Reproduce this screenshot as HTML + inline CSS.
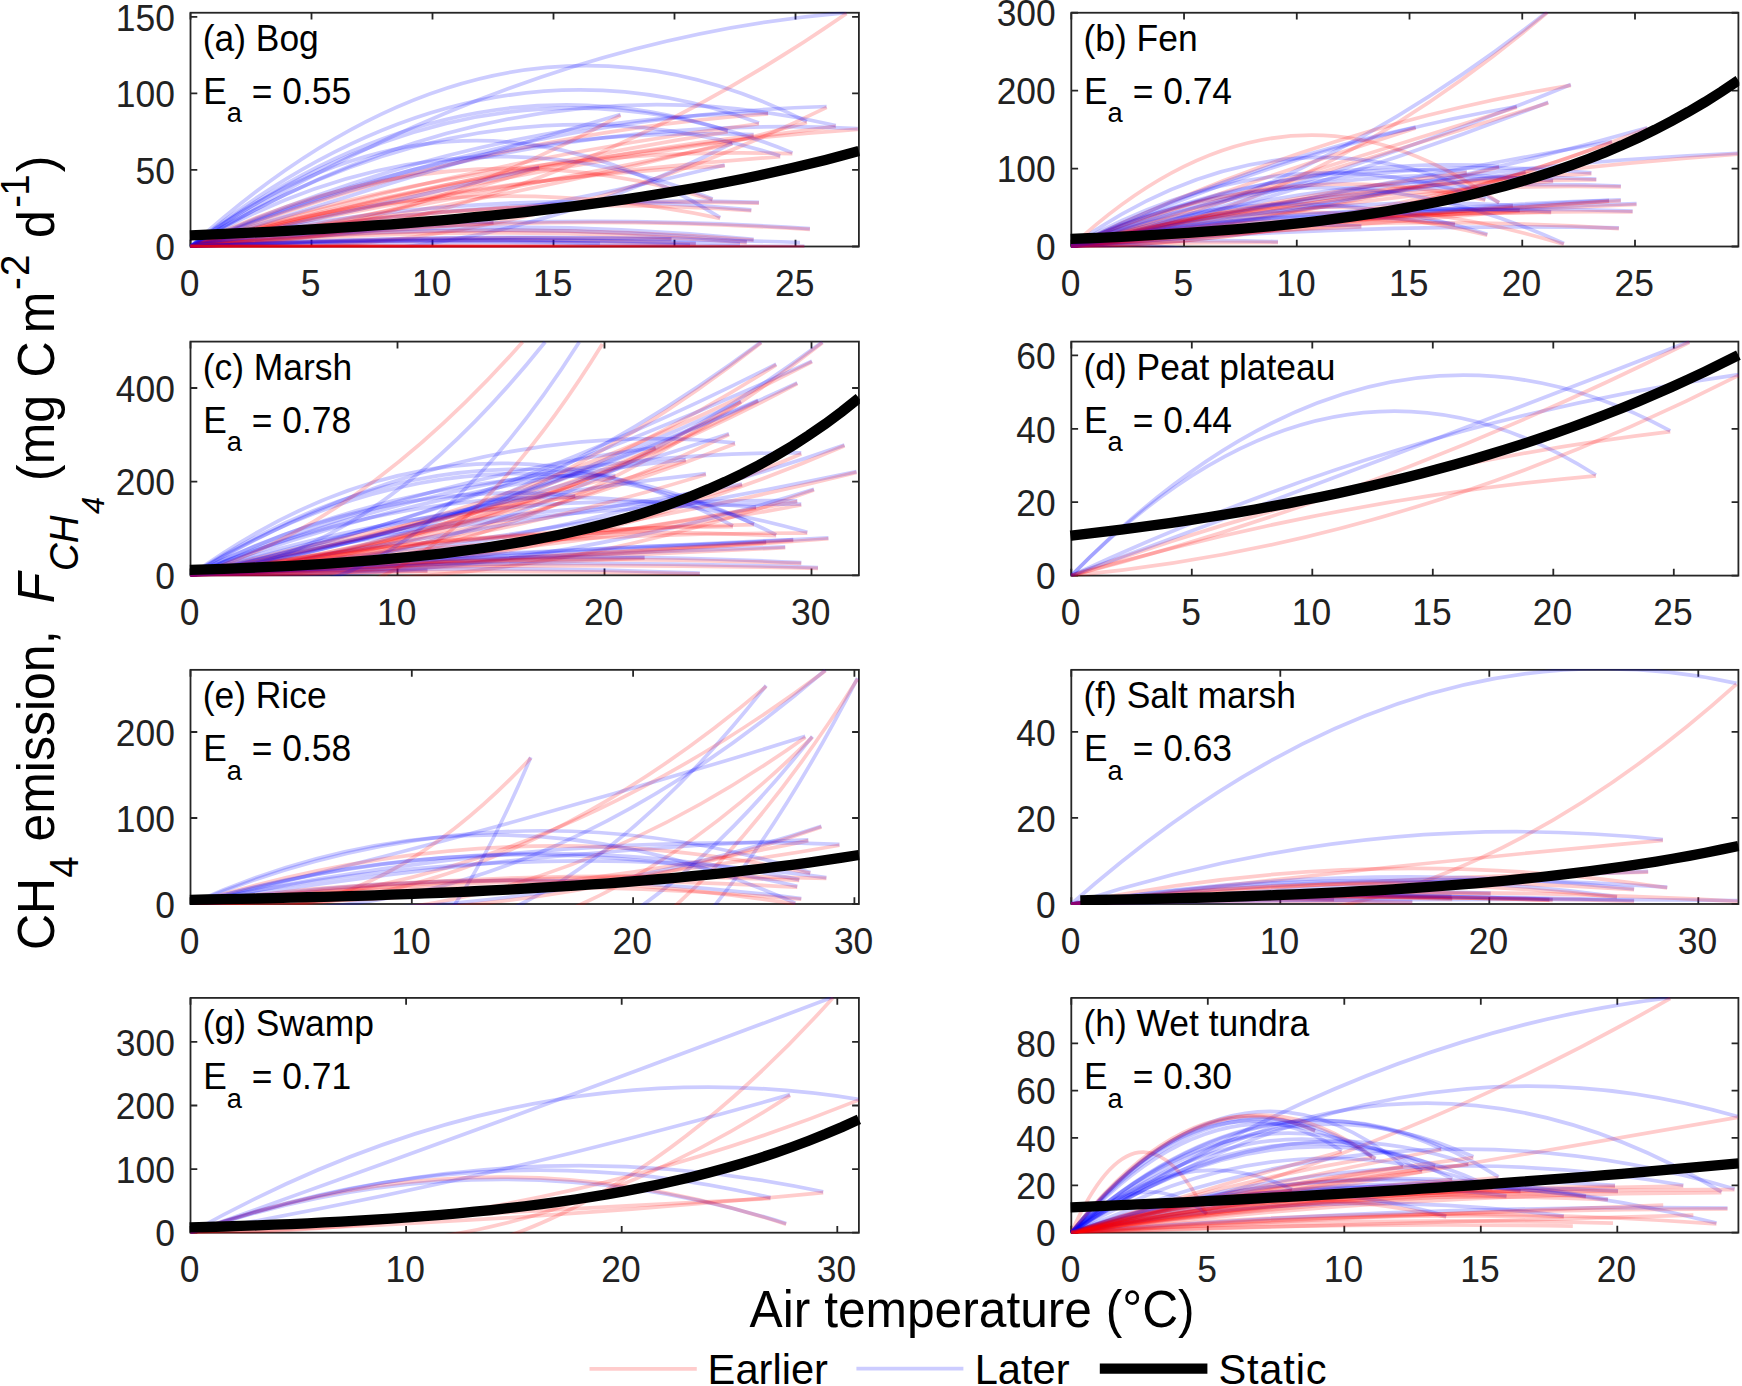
<!DOCTYPE html>
<html lang="en"><head><meta charset="utf-8"><title>CH4 emission vs air temperature</title>
<style>html,body{margin:0;padding:0;background:#fff}svg{display:block}text{font-family:"Liberation Sans", Arial, Helvetica, sans-serif;fill:#000}.t{font-size:35.4px;fill:#222}.r{fill:none;stroke:#f00;stroke-opacity:.2;stroke-width:3.7}.b{fill:none;stroke:#00f;stroke-opacity:.2;stroke-width:3.7}.k{fill:none;stroke:#000;stroke-width:10.3}.ax{fill:none;stroke:#262626;stroke-width:1.8}</style></head><body>
<svg width="1742" height="1386" viewBox="0 0 1742 1386">
<rect width="1742" height="1386" fill="#fff"/>
<g id="panel-a">
<clipPath id="ca"><rect x="189.6" y="11.85" width="670.2" height="235.55"/></clipPath>
<rect class="ax" x="190.5" y="12.75" width="668.4" height="233.75"/>
<path class="ax" d="M190.5 246.5v-6.8M190.5 12.75v6.8M311.5 246.5v-6.8M311.5 12.75v6.8M432.5 246.5v-6.8M432.5 12.75v6.8M553.5 246.5v-6.8M553.5 12.75v6.8M674.5 246.5v-6.8M674.5 12.75v6.8M795.5 246.5v-6.8M795.5 12.75v6.8M190.5 246.5h6.8M858.9 246.5h-6.8M190.5 169.97h6.8M858.9 169.97h-6.8M190.5 93.43h6.8M858.9 93.43h-6.8M190.5 16.9h6.8M858.9 16.9h-6.8"/>
<g clip-path="url(#ca)">
<path class="b" d="M190.5 246.5Q508.58 115.6 826.66 106.51"/>
<path class="r" d="M190.5 246.5Q508.58 263.33 826.66 107.31"/>
<path class="b" d="M190.5 246.5Q513.15 50.17 835.79 125.53"/>
<path class="r" d="M190.5 246.5Q513.15 167.11 835.79 126.33"/>
<path class="b" d="M190.5 246.5Q498.69 -35.16 806.89 121.72"/>
<path class="r" d="M190.5 246.5Q498.69 205.49 806.89 122.52"/>
<path class="b" d="M190.5 246.5Q524.18 111.76 857.85 128.57"/>
<path class="r" d="M190.5 246.5Q524.18 152.45 857.85 129.37"/>
<path class="b" d="M190.5 246.5Q479.3 115.74 768.1 113.05"/>
<path class="r" d="M190.5 246.5Q479.3 134.51 768.1 113.85"/>
<path class="b" d="M190.5 246.5Q474.73 17.97 758.97 122.94"/>
<path class="r" d="M190.5 246.5Q474.73 159.92 758.97 123.74"/>
<path class="b" d="M190.5 246.5Q472.07 122.52 753.65 134.65"/>
<path class="r" d="M190.5 246.5Q472.07 171.24 753.65 135.45"/>
<path class="b" d="M190.5 246.5Q461.42 281.25 732.35 143.02"/>
<path class="r" d="M190.5 246.5Q461.42 198.94 732.35 143.82"/>
<path class="b" d="M190.5 246.5Q459.14 44.07 727.78 130.85"/>
<path class="r" d="M190.5 246.5Q459.14 175.6 727.78 131.65"/>
<path class="b" d="M190.5 246.5Q491.47 29.33 792.44 152.91"/>
<path class="r" d="M190.5 246.5Q491.47 144.22 792.44 153.71"/>
<path class="b" d="M190.5 246.5Q485.38 62.61 780.27 155.95"/>
<path class="r" d="M190.5 246.5Q485.38 177.09 780.27 156.75"/>
<path class="b" d="M190.5 246.5Q457.62 231.79 724.74 165.08"/>
<path class="r" d="M190.5 246.5Q457.62 178.27 724.74 165.88"/>
<path class="b" d="M190.5 246.5Q451.54 94.79 712.57 199"/>
<path class="r" d="M190.5 246.5Q451.54 118.61 712.57 199.8"/>
<path class="b" d="M190.5 246.5Q474.73 193.69 758.97 202.35"/>
<path class="r" d="M190.5 246.5Q474.73 195.01 758.97 203.15"/>
<path class="b" d="M190.5 246.5Q470.93 182.25 751.36 209.95"/>
<path class="r" d="M190.5 246.5Q470.93 191.45 751.36 210.75"/>
<path class="b" d="M190.5 246.5Q455.34 50.56 720.18 217.56"/>
<path class="r" d="M190.5 246.5Q455.34 162.86 720.18 218.36"/>
<path class="b" d="M190.5 246.5Q500.22 207.74 809.93 228.67"/>
<path class="r" d="M190.5 246.5Q500.22 209.57 809.93 229.47"/>
<path class="b" d="M190.5 246.5Q472.07 211.84 753.65 239.31"/>
<path class="r" d="M190.5 246.5Q472.07 217.89 753.65 240.11"/>
<path class="b" d="M190.5 246.5Q468.65 216.25 746.8 241.9"/>
<path class="r" d="M190.5 246.5Q468.65 221.11 746.8 242.7"/>
<path class="b" d="M190.5 246.5Q497.55 245.33 804.61 246.46"/>
<path class="r" d="M190.5 246.5Q497.55 244.36 804.61 247.26"/>
<path class="b" d="M190.5 246.5Q443.17 234.75 695.84 243.42"/>
<path class="r" d="M190.5 246.5Q443.17 235.37 695.84 244.22"/>
<path class="b" d="M190.5 246.5Q431 233.63 671.5 238.86"/>
<path class="r" d="M190.5 246.5Q431 234.22 671.5 239.66"/>
<path class="b" d="M190.5 246.5Q405.52 176.77 620.54 114.57"/>
<path class="r" d="M190.5 246.5Q405.52 232.99 620.54 115.37"/>
<path class="b" d="M190.5 246.5Q518.51 40.35 846.52 12.63"/>
<path class="r" d="M190.5 246.5Q518.51 240.38 846.52 13.43"/>
<path class="b" d="M190.5 246.5Q364.83 208.75 539.15 167.36"/>
<path class="r" d="M190.5 246.5Q364.83 224.08 539.15 168.16"/>
<path class="b" d="M190.5 246.5Q342.01 220.27 493.51 222.12"/>
<path class="r" d="M190.5 246.5Q342.01 232.34 493.51 222.92"/>
<path class="b" d="M190.5 246.5Q495.25 231.56 800 242.5"/>
<path class="b" d="M190.5 246.5Q465.25 234.58 740 244"/>
<path class="b" d="M190.5 246.5Q440.25 239.08 690 245"/>
<path class="b" d="M190.5 246.5Q395.25 237.13 600 243.5"/>
<path class="r" d="M190.5 246.5Q497.25 246.6 804 246.7"/>
<path class="r" d="M190.5 246.5Q465.25 246.72 740 246.9"/>
<path class="r" d="M190.5 246.5Q440.25 246.37 690 246.8"/>
<path class="r" d="M190.5 246.5Q415.25 246.93 640 247"/>
<path class="r" d="M190.5 246.5Q375.25 246.55 560 246.9"/>
<path class="r" d="M190.5 246.5Q345.25 246.7 500 247"/>
<path class="r" d="M190.5 246.5Q310.25 246.89 430 247"/>
<polyline class="k" points="189.6 235.36 190.5 235.33 207.21 234.65 223.92 233.93 240.63 233.18 257.34 232.38 274.05 231.54 290.76 230.66 307.47 229.72 324.18 228.74 340.89 227.71 357.6 226.62 374.31 225.47 391.02 224.27 407.73 223 424.44 221.66 441.15 220.26 457.86 218.78 474.57 217.23 491.28 215.61 507.99 213.89 524.7 212.1 541.41 210.21 558.12 208.23 574.83 206.15 591.54 203.97 608.25 201.68 624.96 199.29 641.67 196.77 658.38 194.14 675.09 191.37 691.8 188.48 708.51 185.45 725.22 182.28 741.93 178.95 758.64 175.48 775.35 171.84 792.06 168.03 808.77 164.05 825.48 159.88 842.19 155.53 858.9 150.97"/>
</g>
<text class="t" transform="translate(189.7 296.1) scale(1 1.04)" text-anchor="middle">0</text>
<text class="t" transform="translate(310.7 296.1) scale(1 1.04)" text-anchor="middle">5</text>
<text class="t" transform="translate(431.7 296.1) scale(1 1.04)" text-anchor="middle">10</text>
<text class="t" transform="translate(552.7 296.1) scale(1 1.04)" text-anchor="middle">15</text>
<text class="t" transform="translate(673.7 296.1) scale(1 1.04)" text-anchor="middle">20</text>
<text class="t" transform="translate(794.7 296.1) scale(1 1.04)" text-anchor="middle">25</text>
<text class="t" transform="translate(174.9 260.2) scale(1 1.04)" text-anchor="end">0</text>
<text class="t" transform="translate(174.9 183.66) scale(1 1.04)" text-anchor="end">50</text>
<text class="t" transform="translate(174.9 107.13) scale(1 1.04)" text-anchor="end">100</text>
<text class="t" transform="translate(174.9 30.6) scale(1 1.04)" text-anchor="end">150</text>
<text class="t" transform="translate(202.7 50.65) scale(1 1.04)" style="fill:#000">(a) Bog</text>
<text class="t" transform="translate(203.2 103.95) scale(1 1.04)" style="fill:#000">E<tspan dy="17.8" font-size="27.3">a</tspan><tspan dy="-17.8"> = 0.55</tspan></text>
</g>
<g id="panel-b">
<clipPath id="cb"><rect x="1070.4" y="11.85" width="668.9" height="235.55"/></clipPath>
<rect class="ax" x="1071.3" y="12.75" width="667.1" height="233.75"/>
<path class="ax" d="M1071.3 246.5v-6.8M1071.3 12.75v6.8M1184.04 246.5v-6.8M1184.04 12.75v6.8M1296.78 246.5v-6.8M1296.78 12.75v6.8M1409.52 246.5v-6.8M1409.52 12.75v6.8M1522.26 246.5v-6.8M1522.26 12.75v6.8M1635 246.5v-6.8M1635 12.75v6.8M1071.3 246.5h6.8M1738.4 246.5h-6.8M1071.3 168.58h6.8M1738.4 168.58h-6.8M1071.3 90.67h6.8M1738.4 90.67h-6.8M1071.3 12.75h6.8M1738.4 12.75h-6.8"/>
<g clip-path="url(#cb)">
<path class="b" d="M1071.3 246.5Q1309.27 199.42 1547.24 11.87"/>
<path class="r" d="M1071.3 246.5Q1309.27 213.9 1547.24 12.67"/>
<path class="b" d="M1071.3 246.5Q1321.05 186.74 1570.8 84.51"/>
<path class="r" d="M1071.3 246.5Q1321.05 126.31 1570.8 85.31"/>
<path class="b" d="M1071.3 246.5Q1309.76 195.18 1548.23 102.18"/>
<path class="r" d="M1071.3 246.5Q1309.76 177.32 1548.23 102.98"/>
<path class="b" d="M1071.3 246.5Q1294.06 145.01 1516.81 106.5"/>
<path class="r" d="M1071.3 246.5Q1294.06 177.25 1516.81 107.3"/>
<path class="b" d="M1071.3 246.5Q1243.5 163.61 1415.71 127.11"/>
<path class="r" d="M1071.3 246.5Q1243.5 183.54 1415.71 127.91"/>
<path class="b" d="M1071.3 246.5Q1404.49 167.1 1737.68 153.23"/>
<path class="r" d="M1071.3 246.5Q1404.49 178.37 1737.68 154.03"/>
<path class="b" d="M1071.3 246.5Q1341.67 189.44 1612.03 141.45"/>
<path class="r" d="M1071.3 246.5Q1341.67 242.71 1612.03 142.25"/>
<path class="b" d="M1071.3 246.5Q1359.34 209.04 1647.37 127.7"/>
<path class="r" d="M1071.3 246.5Q1359.34 242.31 1647.37 128.5"/>
<path class="b" d="M1071.3 246.5Q1331.36 148.14 1591.42 172.86"/>
<path class="r" d="M1071.3 246.5Q1331.36 184.56 1591.42 173.66"/>
<path class="b" d="M1071.3 246.5Q1333.81 167.82 1596.33 179.14"/>
<path class="r" d="M1071.3 246.5Q1333.81 177.12 1596.33 179.94"/>
<path class="b" d="M1071.3 246.5Q1346.08 175.26 1620.87 186.01"/>
<path class="r" d="M1071.3 246.5Q1346.08 180.65 1620.87 186.81"/>
<path class="b" d="M1071.3 246.5Q1312.22 155.93 1553.13 180.71"/>
<path class="r" d="M1071.3 246.5Q1312.22 202.51 1553.13 181.51"/>
<path class="b" d="M1071.3 246.5Q1285.22 154.15 1499.14 166.38"/>
<path class="r" d="M1071.3 246.5Q1285.22 221.01 1499.14 167.18"/>
<path class="b" d="M1071.3 246.5Q1269.03 157.3 1466.75 171.88"/>
<path class="r" d="M1071.3 246.5Q1269.03 197.31 1466.75 172.68"/>
<path class="b" d="M1071.3 246.5Q1298.47 204.61 1525.65 171.88"/>
<path class="r" d="M1071.3 246.5Q1298.47 233.62 1525.65 172.68"/>
<path class="b" d="M1071.3 246.5Q1353.94 211.35 1636.57 203.68"/>
<path class="r" d="M1071.3 246.5Q1353.94 216.25 1636.57 204.48"/>
<path class="b" d="M1071.3 246.5Q1346.08 208.75 1620.87 199.95"/>
<path class="r" d="M1071.3 246.5Q1346.08 216.68 1620.87 200.75"/>
<path class="b" d="M1071.3 246.5Q1340.19 214.43 1609.09 200.34"/>
<path class="r" d="M1071.3 246.5Q1340.19 219.79 1609.09 201.14"/>
<path class="b" d="M1071.3 246.5Q1351.97 200.56 1632.65 211.14"/>
<path class="r" d="M1071.3 246.5Q1351.97 209.06 1632.65 211.94"/>
<path class="b" d="M1071.3 246.5Q1311.24 198.7 1551.17 211.73"/>
<path class="r" d="M1071.3 246.5Q1311.24 211.74 1551.17 212.53"/>
<path class="b" d="M1071.3 246.5Q1345.1 222.46 1618.9 227.83"/>
<path class="r" d="M1071.3 246.5Q1345.1 210.91 1618.9 228.63"/>
<path class="b" d="M1071.3 246.5Q1317.62 130.2 1563.93 243.54"/>
<path class="r" d="M1071.3 246.5Q1317.62 168.58 1563.93 244.34"/>
<path class="b" d="M1071.3 246.5Q1279.33 168.22 1487.37 234.31"/>
<path class="r" d="M1071.3 246.5Q1279.33 184.37 1487.37 235.11"/>
<path class="b" d="M1071.3 246.5Q1285.22 94.13 1499.14 202.31"/>
<path class="r" d="M1071.3 246.5Q1285.22 48.2 1499.14 203.11"/>
<path class="b" d="M1071.3 246.5Q1278.35 128.78 1485.4 199.36"/>
<path class="r" d="M1071.3 246.5Q1278.35 152.38 1485.4 200.16"/>
<path class="b" d="M1071.3 246.5Q1295.53 203.12 1519.76 210.16"/>
<path class="r" d="M1071.3 246.5Q1295.53 229.87 1519.76 210.96"/>
<path class="b" d="M1071.3 246.5Q1292.09 193.23 1512.89 205.25"/>
<path class="r" d="M1071.3 246.5Q1292.09 226.95 1512.89 206.05"/>
<path class="b" d="M1071.3 246.5Q1263.14 202.02 1454.97 223.9"/>
<path class="r" d="M1071.3 246.5Q1263.14 207.63 1454.97 224.7"/>
<path class="b" d="M1071.3 246.5Q1174.65 238.09 1278 241.68"/>
<path class="r" d="M1071.3 246.5Q1174.65 241.69 1278 242.48"/>
<path class="b" d="M1071.3 246.5Q1139.99 241.31 1208.68 252.13"/>
<path class="r" d="M1071.3 246.5Q1139.99 244.91 1208.68 252.93"/>
<path class="b" d="M1071.3 246.5Q1105.83 245.52 1140.37 252.53"/>
<path class="r" d="M1071.3 246.5Q1105.83 247.12 1140.37 253.33"/>
<path class="b" d="M1071.3 246.5Q1216.34 220.26 1361.38 226.01"/>
<path class="r" d="M1071.3 246.5Q1216.34 231.86 1361.38 226.81"/>
<polyline class="k" points="1070.4 238.98 1071.3 238.94 1087.98 238.27 1104.65 237.54 1121.33 236.75 1138.01 235.89 1154.69 234.97 1171.37 233.97 1188.04 232.89 1204.72 231.72 1221.4 230.46 1238.08 229.1 1254.75 227.63 1271.43 226.05 1288.11 224.35 1304.79 222.51 1321.46 220.53 1338.14 218.4 1354.82 216.1 1371.49 213.63 1388.17 210.98 1404.85 208.13 1421.53 205.06 1438.2 201.77 1454.88 198.23 1471.56 194.43 1488.24 190.36 1504.91 185.99 1521.59 181.31 1538.27 176.29 1554.95 170.91 1571.62 165.15 1588.3 158.98 1604.98 152.39 1621.66 145.32 1638.34 137.77 1655.01 129.7 1671.69 121.07 1688.37 111.85 1705.05 102 1721.72 91.49 1738.4 80.27"/>
</g>
<text class="t" transform="translate(1070.5 296.1) scale(1 1.04)" text-anchor="middle">0</text>
<text class="t" transform="translate(1183.24 296.1) scale(1 1.04)" text-anchor="middle">5</text>
<text class="t" transform="translate(1295.98 296.1) scale(1 1.04)" text-anchor="middle">10</text>
<text class="t" transform="translate(1408.72 296.1) scale(1 1.04)" text-anchor="middle">15</text>
<text class="t" transform="translate(1521.46 296.1) scale(1 1.04)" text-anchor="middle">20</text>
<text class="t" transform="translate(1634.2 296.1) scale(1 1.04)" text-anchor="middle">25</text>
<text class="t" transform="translate(1055.7 260.2) scale(1 1.04)" text-anchor="end">0</text>
<text class="t" transform="translate(1055.7 182.28) scale(1 1.04)" text-anchor="end">100</text>
<text class="t" transform="translate(1055.7 104.37) scale(1 1.04)" text-anchor="end">200</text>
<text class="t" transform="translate(1055.7 26.45) scale(1 1.04)" text-anchor="end">300</text>
<text class="t" transform="translate(1083.5 50.65) scale(1 1.04)" style="fill:#000">(b) Fen</text>
<text class="t" transform="translate(1084 103.95) scale(1 1.04)" style="fill:#000">E<tspan dy="17.8" font-size="27.3">a</tspan><tspan dy="-17.8"> = 0.74</tspan></text>
</g>
<g id="panel-c">
<clipPath id="cc"><rect x="189.6" y="340.7" width="670.2" height="235.5"/></clipPath>
<rect class="ax" x="190.5" y="341.6" width="668.4" height="233.7"/>
<path class="ax" d="M190.5 575.3v-6.8M190.5 341.6v6.8M397.5 575.3v-6.8M397.5 341.6v6.8M604.5 575.3v-6.8M604.5 341.6v6.8M811.5 575.3v-6.8M811.5 341.6v6.8M190.5 575.3h6.8M858.9 575.3h-6.8M190.5 481.64h6.8M858.9 481.64h-6.8M190.5 387.98h6.8M858.9 387.98h-6.8"/>
<g clip-path="url(#cc)">
<path class="b" d="M190.5 575.3Q475.81 554.4 761.13 342.03"/>
<path class="r" d="M190.5 575.3Q475.81 565.55 761.13 342.83"/>
<path class="b" d="M190.5 575.3Q506.45 574.65 822.41 342.03"/>
<path class="r" d="M190.5 575.3Q506.45 589.14 822.41 342.83"/>
<path class="b" d="M190.5 575.3Q483.35 512.81 776.19 364.13"/>
<path class="r" d="M190.5 575.3Q483.35 549.84 776.19 364.93"/>
<path class="b" d="M190.5 575.3Q501.23 505.41 811.96 361.12"/>
<path class="r" d="M190.5 575.3Q501.23 521.27 811.96 361.92"/>
<path class="b" d="M190.5 575.3Q493.9 525.37 797.29 382.82"/>
<path class="r" d="M190.5 575.3Q493.9 544.42 797.29 383.62"/>
<path class="b" d="M190.5 575.3Q474.31 527.15 758.11 400.3"/>
<path class="r" d="M190.5 575.3Q474.31 549.08 758.11 401.1"/>
<path class="b" d="M190.5 575.3Q465.77 530.98 741.03 401.3"/>
<path class="r" d="M190.5 575.3Q465.77 559.47 741.03 402.1"/>
<path class="b" d="M190.5 575.3Q459.74 522.69 728.98 433.85"/>
<path class="r" d="M190.5 575.3Q459.74 562.82 728.98 434.65"/>
<path class="b" d="M190.5 575.3Q462.75 414.3 735.01 442.89"/>
<path class="r" d="M190.5 575.3Q462.75 549.45 735.01 443.69"/>
<path class="b" d="M190.5 575.3Q495.9 451.25 801.31 452.94"/>
<path class="r" d="M190.5 575.3Q495.9 585.06 801.31 453.74"/>
<path class="b" d="M190.5 575.3Q517.5 558.65 844.51 444.9"/>
<path class="r" d="M190.5 575.3Q517.5 587.44 844.51 445.7"/>
<path class="b" d="M190.5 575.3Q523.53 540.85 856.56 471.62"/>
<path class="r" d="M190.5 575.3Q523.53 554.29 856.56 472.42"/>
<path class="b" d="M190.5 575.3Q466.27 532.94 742.04 484.08"/>
<path class="r" d="M190.5 575.3Q466.27 568.01 742.04 484.88"/>
<path class="b" d="M190.5 575.3Q502.23 586.01 813.97 489.31"/>
<path class="r" d="M190.5 575.3Q502.23 601.57 813.97 490.11"/>
<path class="b" d="M190.5 575.3Q493.9 496.88 797.29 500.76"/>
<path class="r" d="M190.5 575.3Q493.9 557.29 797.29 501.56"/>
<path class="b" d="M190.5 575.3Q495.9 502.38 801.31 504.17"/>
<path class="r" d="M190.5 575.3Q495.9 561.09 801.31 504.97"/>
<path class="b" d="M190.5 575.3Q473.3 481.26 756.1 507.19"/>
<path class="r" d="M190.5 575.3Q473.3 559.29 756.1 507.99"/>
<path class="b" d="M190.5 575.3Q461.75 379.52 733 525.87"/>
<path class="r" d="M190.5 575.3Q461.75 527.57 733 526.67"/>
<path class="b" d="M190.5 575.3Q472.3 402.09 754.09 523.86"/>
<path class="r" d="M190.5 575.3Q472.3 529.82 754.09 524.66"/>
<path class="b" d="M190.5 575.3Q483.35 385.81 776.19 534.91"/>
<path class="r" d="M190.5 575.3Q483.35 520.7 776.19 535.71"/>
<path class="b" d="M190.5 575.3Q498.92 444.8 807.34 532.3"/>
<path class="r" d="M190.5 575.3Q498.92 532.63 807.34 533.1"/>
<path class="b" d="M190.5 575.3Q509.47 554.67 828.43 537.93"/>
<path class="r" d="M190.5 575.3Q509.47 563.18 828.43 538.73"/>
<path class="b" d="M190.5 575.3Q491.89 552.48 793.27 539.54"/>
<path class="r" d="M190.5 575.3Q491.89 560.43 793.27 540.34"/>
<path class="b" d="M190.5 575.3Q478.32 550.94 766.15 541.95"/>
<path class="r" d="M190.5 575.3Q478.32 562.21 766.15 542.75"/>
<path class="b" d="M190.5 575.3Q487.87 557.15 785.24 546.97"/>
<path class="r" d="M190.5 575.3Q487.87 562.06 785.24 547.77"/>
<path class="b" d="M190.5 575.3Q417.55 563.48 644.59 557.42"/>
<path class="r" d="M190.5 575.3Q417.55 568.21 644.59 558.22"/>
<path class="b" d="M190.5 575.3Q495.9 546.86 801.31 562.64"/>
<path class="r" d="M190.5 575.3Q495.9 551.46 801.31 563.44"/>
<path class="b" d="M190.5 575.3Q504.24 556.23 817.99 567.66"/>
<path class="r" d="M190.5 575.3Q504.24 560.6 817.99 568.46"/>
<path class="b" d="M190.5 575.3Q445.17 563.56 699.85 573.09"/>
<path class="r" d="M190.5 575.3Q445.17 568.17 699.85 573.89"/>
<path class="b" d="M190.5 575.3Q423.07 477.38 655.64 447.51"/>
<path class="r" d="M190.5 575.3Q423.07 547.12 655.64 448.31"/>
<path class="b" d="M190.5 575.3Q402.98 471.35 615.46 475.64"/>
<path class="r" d="M190.5 575.3Q402.98 531.27 615.46 476.44"/>
<path class="b" d="M190.5 575.3Q438.14 483.52 685.78 459.57"/>
<path class="r" d="M190.5 575.3Q438.14 540.08 685.78 460.37"/>
<path class="b" d="M190.5 575.3Q382.89 477.58 575.28 495.73"/>
<path class="r" d="M190.5 575.3Q382.89 523.4 575.28 496.53"/>
<path class="b" d="M190.5 575.3Q448.19 501.51 705.87 473.63"/>
<path class="r" d="M190.5 575.3Q448.19 553.72 705.87 474.43"/>
<path class="b" d="M190.5 575.3Q309 571.23 427.51 570.28"/>
<path class="r" d="M190.5 575.3Q309 573.27 427.51 571.08"/>
<path class="b" d="M190.5 575.3Q367.82 563.74 545.14 342.03"/>
<path class="r" d="M190.5 575.3Q356.57 528.89 522.63 342.03"/>
<path class="b" d="M190.5 575.3Q384.9 647.72 579.29 342.03"/>
<path class="r" d="M190.5 575.3Q396.45 677.54 602.4 344.04"/>
<polyline class="k" points="189.6 569.99 190.5 569.96 207.21 569.41 223.92 568.81 240.63 568.16 257.34 567.44 274.05 566.65 290.76 565.79 307.47 564.85 324.18 563.82 340.89 562.7 357.6 561.48 374.31 560.14 391.02 558.69 407.73 557.11 424.44 555.38 441.15 553.51 457.86 551.46 474.57 549.24 491.28 546.83 507.99 544.21 524.7 541.37 541.41 538.28 558.12 534.93 574.83 531.3 591.54 527.37 608.25 523.11 624.96 518.5 641.67 513.5 658.38 508.1 675.09 502.27 691.8 495.96 708.51 489.14 725.22 481.78 741.93 473.84 758.64 465.27 775.35 456.03 792.06 446.07 808.77 435.33 825.48 423.77 842.19 411.32 858.9 397.92"/>
</g>
<text class="t" transform="translate(189.7 624.9) scale(1 1.04)" text-anchor="middle">0</text>
<text class="t" transform="translate(396.7 624.9) scale(1 1.04)" text-anchor="middle">10</text>
<text class="t" transform="translate(603.7 624.9) scale(1 1.04)" text-anchor="middle">20</text>
<text class="t" transform="translate(810.7 624.9) scale(1 1.04)" text-anchor="middle">30</text>
<text class="t" transform="translate(174.9 589) scale(1 1.04)" text-anchor="end">0</text>
<text class="t" transform="translate(174.9 495.34) scale(1 1.04)" text-anchor="end">200</text>
<text class="t" transform="translate(174.9 401.68) scale(1 1.04)" text-anchor="end">400</text>
<text class="t" transform="translate(202.7 379.5) scale(1 1.04)" style="fill:#000">(c) Marsh</text>
<text class="t" transform="translate(203.2 432.8) scale(1 1.04)" style="fill:#000">E<tspan dy="17.8" font-size="27.3">a</tspan><tspan dy="-17.8"> = 0.78</tspan></text>
</g>
<g id="panel-d">
<clipPath id="cd"><rect x="1070.4" y="340.7" width="668.9" height="235.8"/></clipPath>
<rect class="ax" x="1071.3" y="341.6" width="667.1" height="234"/>
<path class="ax" d="M1071.3 575.6v-6.8M1071.3 341.6v6.8M1191.8 575.6v-6.8M1191.8 341.6v6.8M1312.3 575.6v-6.8M1312.3 341.6v6.8M1432.8 575.6v-6.8M1432.8 341.6v6.8M1553.3 575.6v-6.8M1553.3 341.6v6.8M1673.8 575.6v-6.8M1673.8 341.6v6.8M1071.3 575.6h6.8M1738.4 575.6h-6.8M1071.3 502.2h6.8M1738.4 502.2h-6.8M1071.3 428.8h6.8M1738.4 428.8h-6.8M1071.3 355.4h6.8M1738.4 355.4h-6.8"/>
<g clip-path="url(#cd)">
<path class="b" d="M1071.3 575.6Q1370.79 269.49 1670.27 430.84"/>
<path class="r" d="M1071.3 575.6Q1370.79 466.98 1670.27 431.64"/>
<path class="b" d="M1071.3 575.6Q1333.62 308.62 1595.93 475.04"/>
<path class="r" d="M1071.3 575.6Q1333.62 498.98 1595.93 475.84"/>
<path class="b" d="M1071.3 575.6Q1404.94 420.58 1738.58 374.58"/>
<path class="r" d="M1071.3 575.6Q1404.94 545.13 1738.58 375.38"/>
<path class="b" d="M1071.3 575.6Q1380.33 461.64 1689.36 341.43"/>
<path class="r" d="M1071.3 575.6Q1380.33 496.36 1689.36 342.23"/>
</g>
<polyline class="k" points="1070.4 535.7 1071.3 535.6 1087.98 533.68 1104.65 531.67 1121.33 529.59 1138.01 527.41 1154.69 525.15 1171.37 522.79 1188.04 520.33 1204.72 517.77 1221.4 515.1 1238.08 512.33 1254.75 509.45 1271.43 506.44 1288.11 503.32 1304.79 500.07 1321.46 496.7 1338.14 493.19 1354.82 489.54 1371.5 485.75 1388.17 481.81 1404.85 477.72 1421.53 473.48 1438.2 469.07 1454.88 464.49 1471.56 459.74 1488.24 454.81 1504.91 449.69 1521.59 444.39 1538.27 438.88 1554.95 433.18 1571.62 427.26 1588.3 421.13 1604.98 414.78 1621.66 408.19 1638.34 401.37 1655.01 394.31 1671.69 386.99 1688.37 379.41 1705.05 371.57 1721.72 363.45 1738.4 355.05"/>
<text class="t" transform="translate(1070.5 625.2) scale(1 1.04)" text-anchor="middle">0</text>
<text class="t" transform="translate(1191 625.2) scale(1 1.04)" text-anchor="middle">5</text>
<text class="t" transform="translate(1311.5 625.2) scale(1 1.04)" text-anchor="middle">10</text>
<text class="t" transform="translate(1432 625.2) scale(1 1.04)" text-anchor="middle">15</text>
<text class="t" transform="translate(1552.5 625.2) scale(1 1.04)" text-anchor="middle">20</text>
<text class="t" transform="translate(1673 625.2) scale(1 1.04)" text-anchor="middle">25</text>
<text class="t" transform="translate(1055.7 589.3) scale(1 1.04)" text-anchor="end">0</text>
<text class="t" transform="translate(1055.7 515.9) scale(1 1.04)" text-anchor="end">20</text>
<text class="t" transform="translate(1055.7 442.5) scale(1 1.04)" text-anchor="end">40</text>
<text class="t" transform="translate(1055.7 369.1) scale(1 1.04)" text-anchor="end">60</text>
<text class="t" transform="translate(1083.5 379.5) scale(1 1.04)" style="fill:#000">(d) Peat plateau</text>
<text class="t" transform="translate(1084 432.8) scale(1 1.04)" style="fill:#000">E<tspan dy="17.8" font-size="27.3">a</tspan><tspan dy="-17.8"> = 0.44</tspan></text>
</g>
<g id="panel-e">
<clipPath id="ce"><rect x="189.6" y="668.95" width="670.2" height="235.95"/></clipPath>
<rect class="ax" x="190.5" y="669.85" width="668.4" height="234.15"/>
<path class="ax" d="M190.5 904v-6.8M190.5 669.85v6.8M411.8 904v-6.8M411.8 669.85v6.8M633.1 904v-6.8M633.1 669.85v6.8M854.4 904v-6.8M854.4 669.85v6.8M190.5 904h6.8M858.9 904h-6.8M190.5 818h6.8M858.9 818h-6.8M190.5 732h6.8M858.9 732h-6.8"/>
<g clip-path="url(#ce)">
<path class="b" d="M190.5 904Q478.32 1051.62 766.15 685.5"/>
<path class="r" d="M190.5 904Q478.32 930.51 766.15 686.3"/>
<path class="b" d="M190.5 904Q507.96 943.05 825.42 670.03"/>
<path class="r" d="M190.5 904Q507.96 907.48 825.42 670.83"/>
<path class="b" d="M190.5 904Q524.03 1322.92 857.57 678.07"/>
<path class="r" d="M190.5 904Q524.03 1208.2 857.57 678.87"/>
<path class="b" d="M190.5 904Q497.91 832.08 805.33 736.34"/>
<path class="r" d="M190.5 904Q497.91 956.52 805.33 737.14"/>
<path class="b" d="M190.5 904Q501.43 1130.35 812.36 736.34"/>
<path class="r" d="M190.5 904Q501.43 1045.64 812.36 737.14"/>
<path class="b" d="M190.5 904Q360.63 1160.64 530.77 757.22"/>
<path class="r" d="M190.5 904Q360.63 939.58 530.77 758.02"/>
<path class="b" d="M190.5 904Q505.95 929.93 821.4 826.15"/>
<path class="r" d="M190.5 904Q505.95 935.96 821.4 826.95"/>
<path class="b" d="M190.5 904Q499.42 851.9 808.34 839.81"/>
<path class="r" d="M190.5 904Q499.42 905.06 808.34 840.61"/>
<path class="b" d="M190.5 904Q514.99 832.21 839.48 844.43"/>
<path class="r" d="M190.5 904Q514.99 901.89 839.48 845.23"/>
<path class="b" d="M190.5 904Q500.43 775.4 810.35 872.56"/>
<path class="r" d="M190.5 904Q500.43 805.89 810.35 873.36"/>
<path class="b" d="M190.5 904Q508.46 834.22 826.42 877.58"/>
<path class="r" d="M190.5 904Q508.46 868.7 826.42 878.38"/>
<path class="b" d="M190.5 904Q494.9 817.37 799.3 879.59"/>
<path class="r" d="M190.5 904Q494.9 865.21 799.3 880.39"/>
<path class="b" d="M190.5 904Q493.9 815.25 797.29 886.42"/>
<path class="r" d="M190.5 904Q493.9 869.43 797.29 887.22"/>
<path class="b" d="M190.5 904Q495.9 859.63 801.31 898.48"/>
<path class="r" d="M190.5 904Q495.9 872.59 801.31 899.28"/>
<path class="b" d="M190.5 904Q492.89 766.45 795.28 903.1"/>
<path class="r" d="M190.5 904Q492.89 857.11 795.28 903.9"/>
<polyline class="k" points="189.6 899.8 190.5 899.79 207.21 899.49 223.92 899.17 240.63 898.84 257.34 898.48 274.05 898.1 290.76 897.7 307.47 897.27 324.18 896.82 340.89 896.34 357.6 895.82 374.31 895.28 391.02 894.7 407.73 894.09 424.44 893.45 441.15 892.76 457.86 892.03 474.57 891.26 491.28 890.45 507.99 889.59 524.7 888.68 541.41 887.71 558.12 886.69 574.83 885.62 591.54 884.48 608.25 883.28 624.96 882.01 641.67 880.67 658.38 879.25 675.09 877.76 691.8 876.19 708.51 874.53 725.22 872.78 741.93 870.94 758.64 869 775.35 866.95 792.06 864.8 808.77 862.53 825.48 860.15 842.19 857.64 858.9 855"/>
</g>
<text class="t" transform="translate(189.7 953.6) scale(1 1.04)" text-anchor="middle">0</text>
<text class="t" transform="translate(411 953.6) scale(1 1.04)" text-anchor="middle">10</text>
<text class="t" transform="translate(632.3 953.6) scale(1 1.04)" text-anchor="middle">20</text>
<text class="t" transform="translate(853.6 953.6) scale(1 1.04)" text-anchor="middle">30</text>
<text class="t" transform="translate(174.9 917.7) scale(1 1.04)" text-anchor="end">0</text>
<text class="t" transform="translate(174.9 831.7) scale(1 1.04)" text-anchor="end">100</text>
<text class="t" transform="translate(174.9 745.7) scale(1 1.04)" text-anchor="end">200</text>
<text class="t" transform="translate(202.7 707.75) scale(1 1.04)" style="fill:#000">(e) Rice</text>
<text class="t" transform="translate(203.2 761.05) scale(1 1.04)" style="fill:#000">E<tspan dy="17.8" font-size="27.3">a</tspan><tspan dy="-17.8"> = 0.58</tspan></text>
</g>
<g id="panel-f">
<clipPath id="cf"><rect x="1070.4" y="668.95" width="668.9" height="235.95"/></clipPath>
<rect class="ax" x="1071.3" y="669.85" width="667.1" height="234.15"/>
<path class="ax" d="M1071.3 904v-6.8M1071.3 669.85v6.8M1280.3 904v-6.8M1280.3 669.85v6.8M1489.3 904v-6.8M1489.3 669.85v6.8M1698.3 904v-6.8M1698.3 669.85v6.8M1071.3 904h6.8M1738.4 904h-6.8M1071.3 817.9h6.8M1738.4 817.9h-6.8M1071.3 731.8h6.8M1738.4 731.8h-6.8"/>
<g clip-path="url(#cf)">
<path class="b" d="M1071.3 904Q1403.91 609.99 1736.52 683.36"/>
<path class="r" d="M1071.3 904Q1403.91 982.63 1736.52 684.16"/>
<path class="b" d="M1071.3 904Q1367.11 807.87 1662.92 839.57"/>
<path class="r" d="M1071.3 904Q1367.11 866.96 1662.92 840.37"/>
<path class="b" d="M1071.3 904Q1359.74 883.18 1648.17 871.37"/>
<path class="r" d="M1071.3 904Q1359.74 877 1648.17 872.17"/>
<path class="b" d="M1071.3 904Q1369.28 866.91 1667.26 887.04"/>
<path class="r" d="M1071.3 904Q1369.28 842.16 1667.26 887.84"/>
<path class="b" d="M1071.3 904Q1352.7 858.88 1634.11 888.85"/>
<path class="r" d="M1071.3 904Q1352.7 870.41 1634.11 889.65"/>
<path class="b" d="M1071.3 904Q1344.16 861.16 1617.03 896.49"/>
<path class="r" d="M1071.3 904Q1344.16 867.95 1617.03 897.29"/>
<path class="b" d="M1071.3 904Q1352.7 891.12 1634.11 900.51"/>
<path class="r" d="M1071.3 904Q1352.7 892.64 1634.11 901.31"/>
<path class="b" d="M1071.3 904Q1404.44 897.23 1737.58 900.51"/>
<path class="r" d="M1071.3 904Q1404.44 882.52 1737.58 901.31"/>
<path class="b" d="M1071.3 904Q1312.02 889.78 1552.73 899.5"/>
<path class="r" d="M1071.3 904Q1312.02 891.31 1552.73 900.3"/>
<path class="b" d="M1071.3 904Q1261.79 887.93 1452.28 898.5"/>
<path class="r" d="M1071.3 904Q1261.79 890.78 1452.28 899.3"/>
<path class="b" d="M1071.3 904Q1261.4 890.17 1451.5 896.34"/>
<path class="r" d="M1071.3 904Q1261.4 891.77 1451.5 897.14"/>
<path class="b" d="M1071.3 904Q1280.98 886.6 1490.65 893.2"/>
<path class="r" d="M1071.3 904Q1280.98 888.2 1490.65 894"/>
<path class="b" d="M1071.3 904Q1202.68 893.54 1334.05 899.08"/>
<path class="r" d="M1071.3 904Q1202.68 895.14 1334.05 899.88"/>
<path class="b" d="M1071.3 904Q1310.34 889.73 1549.38 899.47"/>
<path class="r" d="M1071.3 904Q1310.34 891.33 1549.38 900.27"/>
<path class="b" d="M1071.3 904Q1241.83 896.91 1412.35 901.82"/>
<path class="r" d="M1071.3 904Q1241.83 898.51 1412.35 902.62"/>
<polyline class="k" points="1080.29 900.32 1096.74 900.02 1113.19 899.71 1129.65 899.37 1146.1 899.01 1162.55 898.62 1179 898.21 1195.46 897.76 1211.91 897.28 1228.36 896.77 1244.82 896.23 1261.27 895.64 1277.72 895.02 1294.17 894.35 1310.63 893.64 1327.08 892.88 1343.53 892.06 1359.99 891.2 1376.44 890.27 1392.89 889.29 1409.34 888.24 1425.8 887.12 1442.25 885.93 1458.7 884.66 1475.15 883.31 1491.61 881.87 1508.06 880.35 1524.51 878.72 1540.97 877 1557.42 875.16 1573.87 873.22 1590.32 871.15 1606.78 868.96 1623.23 866.63 1639.68 864.16 1656.14 861.54 1672.59 858.77 1689.04 855.83 1705.49 852.71 1721.95 849.41 1738.4 845.92"/>
</g>
<text class="t" transform="translate(1070.5 953.6) scale(1 1.04)" text-anchor="middle">0</text>
<text class="t" transform="translate(1279.5 953.6) scale(1 1.04)" text-anchor="middle">10</text>
<text class="t" transform="translate(1488.5 953.6) scale(1 1.04)" text-anchor="middle">20</text>
<text class="t" transform="translate(1697.5 953.6) scale(1 1.04)" text-anchor="middle">30</text>
<text class="t" transform="translate(1055.7 917.7) scale(1 1.04)" text-anchor="end">0</text>
<text class="t" transform="translate(1055.7 831.6) scale(1 1.04)" text-anchor="end">20</text>
<text class="t" transform="translate(1055.7 745.5) scale(1 1.04)" text-anchor="end">40</text>
<text class="t" transform="translate(1083.5 707.75) scale(1 1.04)" style="fill:#000">(f) Salt marsh</text>
<text class="t" transform="translate(1084 761.05) scale(1 1.04)" style="fill:#000">E<tspan dy="17.8" font-size="27.3">a</tspan><tspan dy="-17.8"> = 0.63</tspan></text>
</g>
<g id="panel-g">
<clipPath id="cg"><rect x="189.6" y="997" width="670.2" height="236.6"/></clipPath>
<rect class="ax" x="190.5" y="997.9" width="668.4" height="234.8"/>
<path class="ax" d="M190.5 1232.7v-6.8M190.5 997.9v6.8M406.1 1232.7v-6.8M406.1 997.9v6.8M621.7 1232.7v-6.8M621.7 997.9v6.8M837.3 1232.7v-6.8M837.3 997.9v6.8M190.5 1232.7h6.8M858.9 1232.7h-6.8M190.5 1169.1h6.8M858.9 1169.1h-6.8M190.5 1105.5h6.8M858.9 1105.5h-6.8M190.5 1041.9h6.8M858.9 1041.9h-6.8"/>
<g clip-path="url(#cg)">
<path class="b" d="M190.5 1232.7Q511.75 1118.85 832.99 997.03"/>
<path class="r" d="M190.5 1232.7Q511.75 1354.57 832.99 997.83"/>
<path class="b" d="M190.5 1232.7Q524.43 1045 858.36 1099.3"/>
<path class="r" d="M190.5 1232.7Q524.43 1234.16 858.36 1100.1"/>
<path class="b" d="M190.5 1232.7Q490.28 1180.92 790.05 1094.62"/>
<path class="r" d="M190.5 1232.7Q490.28 1289.67 790.05 1095.42"/>
<path class="b" d="M190.5 1232.7Q506.87 1123.66 823.23 1191.81"/>
<path class="r" d="M190.5 1232.7Q506.87 1223.08 823.23 1192.61"/>
<path class="b" d="M190.5 1232.7Q480.52 1128.53 770.53 1197.67"/>
<path class="r" d="M190.5 1232.7Q480.52 1212.48 770.53 1198.47"/>
<path class="b" d="M190.5 1232.7Q488.32 1131 786.15 1223.43"/>
<path class="r" d="M190.5 1232.7Q488.32 1125.85 786.15 1224.23"/>
</g>
<polyline class="k" points="189.6 1227.49 190.5 1227.47 207.21 1227 223.92 1226.49 240.63 1225.95 257.34 1225.36 274.05 1224.72 290.76 1224.03 307.47 1223.28 324.18 1222.48 340.89 1221.61 357.6 1220.67 374.31 1219.66 391.02 1218.57 407.73 1217.39 424.44 1216.13 441.15 1214.77 457.86 1213.3 474.57 1211.73 491.28 1210.03 507.99 1208.21 524.7 1206.25 541.41 1204.15 558.12 1201.9 574.83 1199.48 591.54 1196.88 608.25 1194.1 624.96 1191.12 641.67 1187.92 658.38 1184.5 675.09 1180.83 691.8 1176.91 708.51 1172.72 725.22 1168.23 741.93 1163.44 758.64 1158.31 775.35 1152.84 792.06 1146.99 808.77 1140.75 825.48 1134.09 842.19 1126.99 858.9 1119.42"/>
<text class="t" transform="translate(189.7 1282.3) scale(1 1.04)" text-anchor="middle">0</text>
<text class="t" transform="translate(405.3 1282.3) scale(1 1.04)" text-anchor="middle">10</text>
<text class="t" transform="translate(620.9 1282.3) scale(1 1.04)" text-anchor="middle">20</text>
<text class="t" transform="translate(836.5 1282.3) scale(1 1.04)" text-anchor="middle">30</text>
<text class="t" transform="translate(174.9 1246.4) scale(1 1.04)" text-anchor="end">0</text>
<text class="t" transform="translate(174.9 1182.8) scale(1 1.04)" text-anchor="end">100</text>
<text class="t" transform="translate(174.9 1119.2) scale(1 1.04)" text-anchor="end">200</text>
<text class="t" transform="translate(174.9 1055.6) scale(1 1.04)" text-anchor="end">300</text>
<text class="t" transform="translate(202.7 1035.8) scale(1 1.04)" style="fill:#000">(g) Swamp</text>
<text class="t" transform="translate(203.2 1089.1) scale(1 1.04)" style="fill:#000">E<tspan dy="17.8" font-size="27.3">a</tspan><tspan dy="-17.8"> = 0.71</tspan></text>
</g>
<g id="panel-h">
<clipPath id="ch"><rect x="1070.4" y="997" width="668.9" height="236.5"/></clipPath>
<rect class="ax" x="1071.3" y="997.9" width="667.1" height="234.7"/>
<path class="ax" d="M1071.3 1232.6v-6.8M1071.3 997.9v6.8M1207.8 1232.6v-6.8M1207.8 997.9v6.8M1344.3 1232.6v-6.8M1344.3 997.9v6.8M1480.8 1232.6v-6.8M1480.8 997.9v6.8M1617.3 1232.6v-6.8M1617.3 997.9v6.8M1071.3 1232.6h6.8M1738.4 1232.6h-6.8M1071.3 1185.28h6.8M1738.4 1185.28h-6.8M1071.3 1137.96h6.8M1738.4 1137.96h-6.8M1071.3 1090.64h6.8M1738.4 1090.64h-6.8M1071.3 1043.32h6.8M1738.4 1043.32h-6.8"/>
<g clip-path="url(#ch)">
<path class="b" d="M1071.3 1232.6Q1370.79 1033.22 1670.27 997.63"/>
<path class="r" d="M1071.3 1232.6Q1370.79 1169.44 1670.27 998.43"/>
<path class="b" d="M1071.3 1232.6Q1404.44 1019.11 1737.58 1116.58"/>
<path class="r" d="M1071.3 1232.6Q1404.44 1175.88 1737.58 1117.38"/>
<path class="b" d="M1071.3 1232.6Q1396.4 995.93 1721.51 1191.92"/>
<path class="r" d="M1071.3 1232.6Q1396.4 1192.96 1721.51 1192.72"/>
<path class="b" d="M1071.3 1232.6Q1402.93 1091.58 1734.57 1188.91"/>
<path class="r" d="M1071.3 1232.6Q1402.93 1187.49 1734.57 1189.71"/>
<path class="b" d="M1071.3 1232.6Q1377.32 1130.2 1683.33 1185.29"/>
<path class="r" d="M1071.3 1232.6Q1377.32 1189.26 1683.33 1186.09"/>
<path class="b" d="M1071.3 1232.6Q1393.89 1140.44 1716.48 1223.07"/>
<path class="r" d="M1071.3 1232.6Q1393.89 1200.78 1716.48 1223.87"/>
<path class="b" d="M1071.3 1232.6Q1399.42 1204.82 1727.53 1208"/>
<path class="r" d="M1071.3 1232.6Q1399.42 1209.43 1727.53 1208.8"/>
<path class="b" d="M1071.3 1232.6Q1343.16 1168.63 1615.02 1185.29"/>
<path class="r" d="M1071.3 1232.6Q1343.16 1189.9 1615.02 1186.09"/>
<path class="b" d="M1071.3 1232.6Q1344.67 1175.63 1618.03 1190.92"/>
<path class="r" d="M1071.3 1232.6Q1344.67 1184.9 1618.03 1191.72"/>
<path class="b" d="M1071.3 1232.6Q1339.64 1160.96 1607.99 1198.96"/>
<path class="r" d="M1071.3 1232.6Q1339.64 1186.6 1607.99 1199.76"/>
<path class="b" d="M1071.3 1232.6Q1328.59 1147.93 1585.89 1195.94"/>
<path class="r" d="M1071.3 1232.6Q1328.59 1179.93 1585.89 1196.74"/>
<path class="b" d="M1071.3 1232.6Q1317.54 1184.24 1563.79 1216.03"/>
<path class="r" d="M1071.3 1232.6Q1317.54 1212.27 1563.79 1216.83"/>
<path class="b" d="M1071.3 1232.6Q1288.91 1167.34 1506.52 1195.94"/>
<path class="r" d="M1071.3 1232.6Q1288.91 1186.68 1506.52 1196.74"/>
<path class="b" d="M1071.3 1232.6Q1295.94 1156.01 1520.59 1190.92"/>
<path class="r" d="M1071.3 1232.6Q1295.94 1184.95 1520.59 1191.72"/>
<path class="b" d="M1071.3 1232.6Q1284.89 1040.85 1498.49 1176.85"/>
<path class="r" d="M1071.3 1232.6Q1284.89 1196.33 1498.49 1177.65"/>
<path class="b" d="M1071.3 1232.6Q1272.34 1064.4 1473.37 1156.76"/>
<path class="r" d="M1071.3 1232.6Q1272.34 1182.28 1473.37 1157.56"/>
<path class="b" d="M1071.3 1232.6Q1256.26 1063.91 1441.23 1148.73"/>
<path class="r" d="M1071.3 1232.6Q1256.26 1184.26 1441.23 1149.53"/>
<path class="b" d="M1071.3 1232.6Q1269.82 1096.16 1468.35 1163.79"/>
<path class="r" d="M1071.3 1232.6Q1269.82 1181.8 1468.35 1164.59"/>
<path class="b" d="M1071.3 1232.6Q1253.25 1098.89 1435.2 1165.8"/>
<path class="r" d="M1071.3 1232.6Q1253.25 1194.8 1435.2 1166.6"/>
<path class="b" d="M1071.3 1232.6Q1237.18 1030.15 1403.05 1165.8"/>
<path class="r" d="M1071.3 1232.6Q1237.18 1188.8 1403.05 1166.6"/>
<path class="b" d="M1071.3 1232.6Q1258.77 1161.87 1446.25 1216.03"/>
<path class="r" d="M1071.3 1232.6Q1258.77 1175.74 1446.25 1216.83"/>
<path class="b" d="M1071.3 1232.6Q1138.97 1162.02 1206.65 1213.61"/>
<path class="r" d="M1071.3 1232.6Q1138.97 1081.25 1206.65 1214.41"/>
<path class="b" d="M1071.3 1232.6Q1193.22 1078.97 1315.14 1130.23"/>
<path class="r" d="M1071.3 1232.6Q1193.22 1074.33 1315.14 1131.03"/>
<path class="b" d="M1071.3 1232.6Q1223.36 1052.74 1375.42 1158.36"/>
<path class="r" d="M1071.3 1232.6Q1223.36 1043.17 1375.42 1159.16"/>
<path class="b" d="M1071.3 1232.6Q1181.67 1135.58 1292.04 1189.5"/>
<path class="r" d="M1071.3 1232.6Q1181.67 1198.65 1292.04 1190.3"/>
<path class="b" d="M1071.3 1232.6Q1246.72 1071.97 1422.14 1170.83"/>
<path class="r" d="M1071.3 1232.6Q1246.72 1193.31 1422.14 1171.63"/>
<path class="b" d="M1071.3 1232.6Q1261.79 1078.1 1452.28 1178.86"/>
<path class="r" d="M1071.3 1232.6Q1261.79 1195.33 1452.28 1179.66"/>
<path class="b" d="M1071.3 1232.6Q1276.86 1090.85 1482.41 1182.88"/>
<path class="r" d="M1071.3 1232.6Q1276.86 1201.34 1482.41 1183.68"/>
<path class="b" d="M1071.3 1232.6Q1221.6 1063.71 1371.91 1156.76"/>
<path class="r" d="M1071.3 1232.6Q1221.6 1182.28 1371.91 1157.56"/>
<path class="b" d="M1071.3 1232.6Q1206.54 1063.76 1341.77 1150.73"/>
<path class="r" d="M1071.3 1232.6Q1206.54 1187.27 1341.77 1151.53"/>
<path class="b" d="M1071.3 1232.6Q1281.88 1111.3 1492.46 1187.9"/>
<path class="r" d="M1071.3 1232.6Q1281.88 1201.85 1492.46 1188.7"/>
<path class="r" d="M1071.3 1232.6Q1367.27 1216.15 1663.24 1204.98"/>
<path class="r" d="M1071.3 1232.6Q1382.34 1222.45 1693.38 1215.03"/>
<path class="r" d="M1071.3 1232.6Q1342.16 1215.89 1613.01 1223.07"/>
<path class="r" d="M1071.3 1232.6Q1322.06 1222.13 1572.83 1226.08"/>
<polyline class="k" points="1070.4 1207.32 1071.3 1207.28 1087.98 1206.58 1104.65 1205.86 1121.33 1205.13 1138.01 1204.38 1154.69 1203.61 1171.37 1202.82 1188.04 1202.02 1204.72 1201.19 1221.4 1200.35 1238.08 1199.49 1254.75 1198.61 1271.43 1197.72 1288.11 1196.8 1304.79 1195.86 1321.46 1194.9 1338.14 1193.93 1354.82 1192.93 1371.5 1191.9 1388.17 1190.86 1404.85 1189.8 1421.53 1188.71 1438.21 1187.6 1454.88 1186.47 1471.56 1185.31 1488.24 1184.13 1504.91 1182.93 1521.59 1181.7 1538.27 1180.44 1554.95 1179.16 1571.62 1177.86 1588.3 1176.52 1604.98 1175.17 1621.66 1173.78 1638.34 1172.37 1655.01 1170.93 1671.69 1169.46 1688.37 1167.96 1705.05 1166.43 1721.72 1164.87 1738.4 1163.29"/>
</g>
<text class="t" transform="translate(1070.5 1282.2) scale(1 1.04)" text-anchor="middle">0</text>
<text class="t" transform="translate(1207 1282.2) scale(1 1.04)" text-anchor="middle">5</text>
<text class="t" transform="translate(1343.5 1282.2) scale(1 1.04)" text-anchor="middle">10</text>
<text class="t" transform="translate(1480 1282.2) scale(1 1.04)" text-anchor="middle">15</text>
<text class="t" transform="translate(1616.5 1282.2) scale(1 1.04)" text-anchor="middle">20</text>
<text class="t" transform="translate(1055.7 1246.3) scale(1 1.04)" text-anchor="end">0</text>
<text class="t" transform="translate(1055.7 1198.98) scale(1 1.04)" text-anchor="end">20</text>
<text class="t" transform="translate(1055.7 1151.66) scale(1 1.04)" text-anchor="end">40</text>
<text class="t" transform="translate(1055.7 1104.34) scale(1 1.04)" text-anchor="end">60</text>
<text class="t" transform="translate(1055.7 1057.02) scale(1 1.04)" text-anchor="end">80</text>
<text class="t" transform="translate(1083.5 1035.8) scale(1 1.04)" style="fill:#000">(h) Wet tundra</text>
<text class="t" transform="translate(1084 1089.1) scale(1 1.04)" style="fill:#000">E<tspan dy="17.8" font-size="27.3">a</tspan><tspan dy="-17.8"> = 0.30</tspan></text>
</g>
<text transform="translate(749.6 1327.4) scale(1 1.04)" font-size="49.7">Air temperature (°C)</text>
<g transform="translate(53.7 0) rotate(-90)" font-size="50">
<text transform="translate(-950 0) scale(1 1.04)">CH</text>
<text transform="translate(-877.8 24.5) scale(1 1.04)" font-size="38.5">4</text>
<text transform="translate(-841.6 0) scale(1 1.04)">emission,</text>
<text transform="translate(-603.2 0) scale(1 1.04)" font-style="italic">F</text>
<text transform="translate(-571 24.7) scale(1 1.04)" font-size="38.5" font-style="italic">CH</text>
<text transform="translate(-514 50.1) scale(1 1.04)" font-size="30.8" font-style="italic">4</text>
<text transform="translate(-481 0) scale(1 1.04)">(mg</text>
<text transform="translate(-377.4 0) scale(1 1.04)">C</text>
<text transform="translate(-333.2 0) scale(1 1.04)">m</text>
<text transform="translate(-290 -24.7) scale(1 1.04)" font-size="38.5">-</text>
<text transform="translate(-276 -24.7) scale(1 1.04)" font-size="38.5">2</text>
<text transform="translate(-238 0) scale(1 1.04)">d</text>
<text transform="translate(-207.8 -24.7) scale(1 1.04)" font-size="38.5">-</text>
<text transform="translate(-195.8 -24.7) scale(1 1.04)" font-size="38.5">1</text>
<text transform="translate(-172.3 0) scale(1 1.04)">)</text>
</g>
<path class="r" style="stroke-width:3.8" d="M589.5 1368.8H696.8"/>
<text transform="translate(707.6 1384.3) scale(1 1.04)" font-size="41.67">Earlier</text>
<path class="b" style="stroke-width:3.8" d="M856.4 1368.7H963.4"/>
<text transform="translate(974.7 1384.3) scale(1 1.04)" font-size="41.67">Later</text>
<path class="k" d="M1099.8 1368.7H1207.4"/>
<text transform="translate(1218.4 1384.3) scale(1 1.04)" font-size="41.67" letter-spacing="0.8">Static</text>
</svg></body></html>
